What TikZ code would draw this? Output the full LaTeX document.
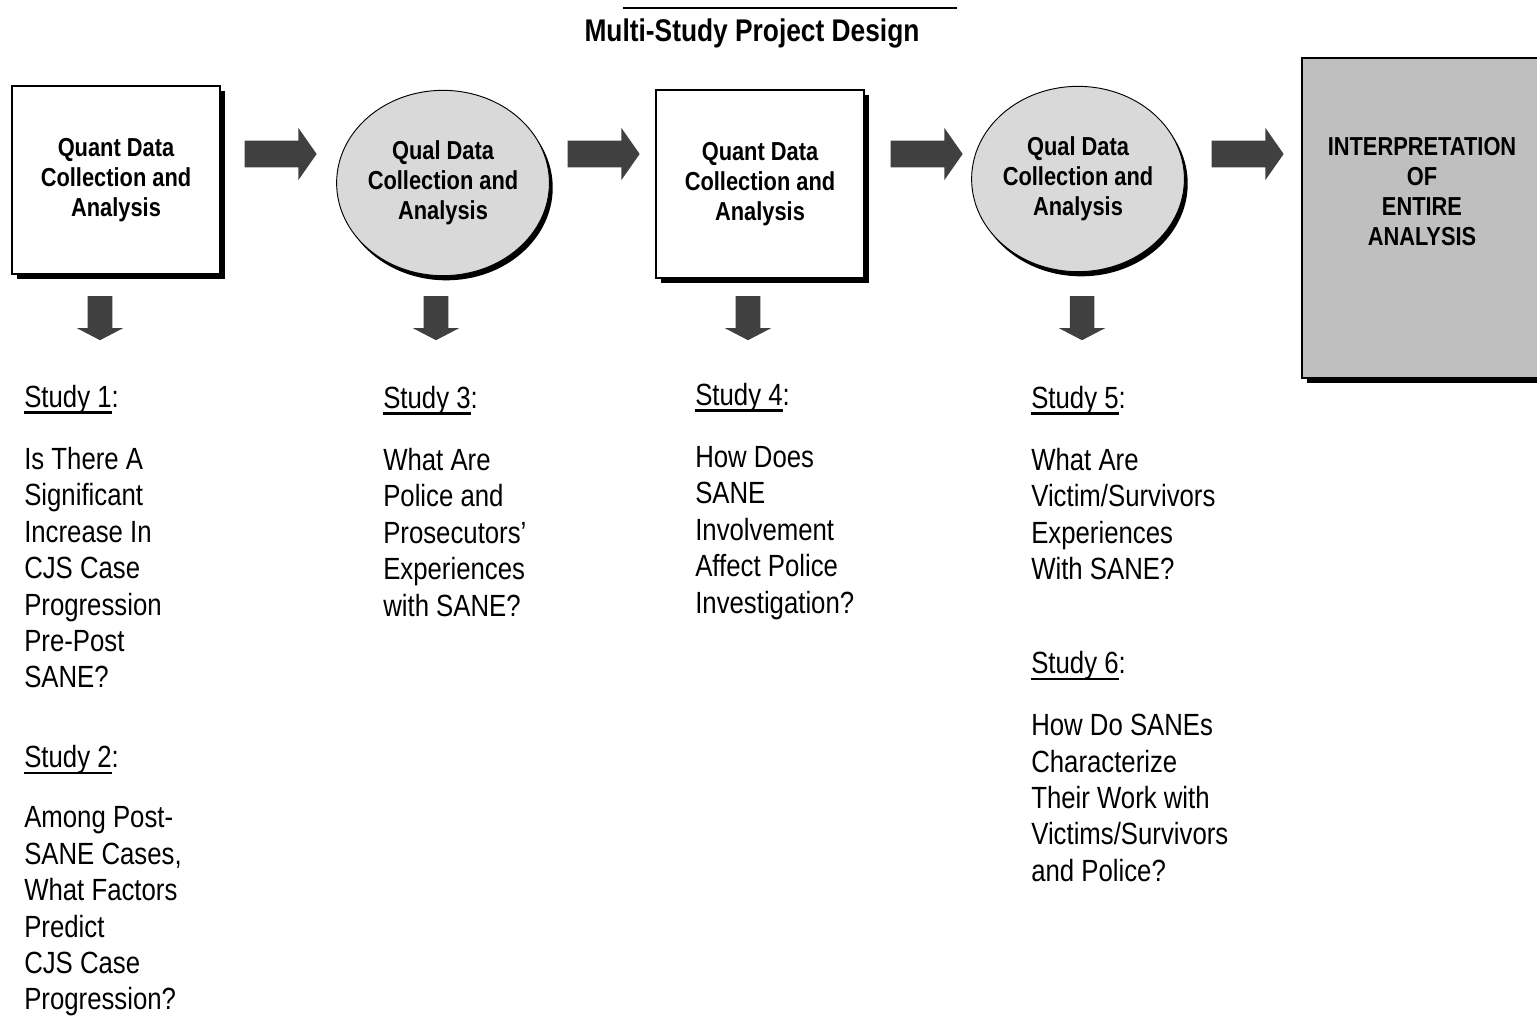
\documentclass[tikz,border=0pt]{standalone}
\usepackage{fontspec}
\setmainfont{Liberation Sans}[FakeStretch=0.84]
\usepackage{tikz}
\usetikzlibrary{shapes.geometric,shapes.arrows,shadows,positioning}
\usepackage{xcolor}
\definecolor{arrowgray}{RGB}{64,64,64}
\definecolor{qualgray}{RGB}{217,217,217}
\definecolor{interpgray}{RGB}{191,191,191}
\newsavebox{\studybox}
\newcommand{\studyhead}[1]{\sbox{\studybox}{#1}\rlap{\rule[-4.6pt]{\wd\studybox}{1.6pt}}\usebox{\studybox}}

\tikzset{
  boxtext/.style={inner sep=0pt, align=center, font=\fontsize{19.5}{22.5}\selectfont\bfseries},
  quantbox/.style={boxtext, draw, line width=1pt, fill=white, minimum width=156pt, minimum height=141pt,
    drop shadow={shadow xshift=3.75pt, shadow yshift=-3.75pt, fill=black, opacity=1}},
  qualcircle/.style={boxtext, ellipse, draw, line width=0.7pt, fill=qualgray, minimum width=156pt, minimum height=139pt,
    drop shadow={shadow xshift=2.5pt, shadow yshift=-3.5pt, fill=black, opacity=1}},
  interpbox/.style={draw, line width=1.5pt, fill=interpgray, minimum width=180pt, minimum height=240pt,
    drop shadow={shadow xshift=4pt, shadow yshift=-4pt, fill=black, opacity=1}},
  rarrow/.style={single arrow, fill=arrowgray, inner xsep=0pt, inner ysep=9.75pt, minimum height=54pt,
    single arrow head extend=9.75pt, single arrow tip angle=110},
  darrow/.style={single arrow, fill=arrowgray, inner xsep=0pt, inner ysep=9pt, minimum height=33pt,
    single arrow head extend=8.25pt, single arrow tip angle=125, rotate=-90},
  studytext/.style={anchor=north west, inner sep=0pt, align=left, font=\fontsize{23}{27.3}\selectfont}
}

\begin{document}
\begin{tikzpicture}[x=0.75pt,y=-0.75pt]
  \useasboundingbox (0,0) rectangle (1537,1020);

  % Title
  \draw[line width=1.5pt] (623,8) -- (957,8);
  \node[anchor=base, inner sep=0pt, font=\fontsize{23.5}{26}\selectfont\bfseries] (title) at (752,42) {Multi-Study Project Design};

  % Data collection stages
  \node[quantbox] (quant1) at (116,180) {Quant Data\\Collection and\\Analysis};
  \node[qualcircle] (qual1) at (443,183) {Qual Data\\Collection and\\Analysis};
  \node[quantbox] (quant2) at (760,184) {Quant Data\\Collection and\\Analysis};
  \node[qualcircle] (qual2) at (1078,179) {Qual Data\\Collection and\\Analysis};
  \node[interpbox] (interp) at (1422,218) {};
  \node[boxtext, below=60.4pt of interp.north] (interptext) {INTERPRETATION\\OF\\ENTIRE\\ANALYSIS};

  % Block arrows
  \foreach \x/\n in {276/ra1, 599/ra2, 922/ra3, 1243/ra4}
    \node[rarrow] (\n) at (\x,154) {};
  \foreach \x/\n in {100/da1, 436/da2, 748/da3, 1082/da4}
    \node[darrow] (\n) at (\x,315) {};

  % Studies
  \node[studytext] (col1) at (24,385) {\studyhead{Study 1}:\\[19.2pt]
    Is There A\\Significant\\Increase In\\CJS Case\\Progression\\Pre-Post\\SANE?\\[32.7pt]
    \studyhead{Study 2}:\\[17.7pt]
    Among Post-\\SANE Cases,\\What Factors\\Predict\\CJS Case\\Progression?};
  \node[studytext] (col2) at (383,386) {\studyhead{Study 3}:\\[19.2pt]
    What Are\\Police and\\Prosecutors'\\Experiences\\with SANE?};
  \node[studytext] (col3) at (695,383) {\studyhead{Study 4}:\\[19.2pt]
    How Does\\SANE\\Involvement\\Affect Police\\Investigation?};
  \node[studytext] (col4) at (1031,386) {\studyhead{Study 5}:\\[19.2pt]
    What Are\\Victim/Survivors\\Experiences\\With SANE?\\[43.2pt]
    \studyhead{Study 6}:\\[19.2pt]
    How Do SANEs\\Characterize\\Their Work with\\Victims/Survivors\\and Police?};
\end{tikzpicture}
\end{document}
